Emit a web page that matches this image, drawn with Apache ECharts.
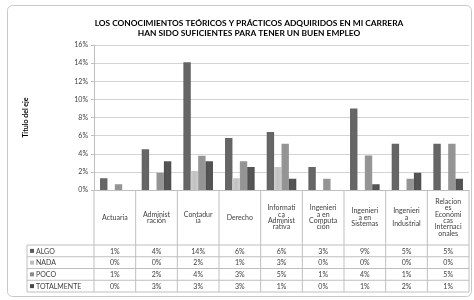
<!DOCTYPE html>
<html>
<head>
<meta charset="utf-8">
<script src="https://cdn.jsdelivr.net/npm/echarts@6/dist/echarts.min.js"></script>
<style>
  html, body { margin: 0; padding: 0; background: #fff; }
  #Chart { width: 474px; height: 300px; }
</style>
</head>
<body>
<div id="Chart"></div>
<script>
  // categorías tal como aparecen (con cortes de línea) en la tabla
  var categorias = ['Actuaria', 'Administ\nración', 'Contadur\nia', 'Derecho',
    'Informati\nca\nAdminist\nrativa', 'Ingenieri\na en\nComputa\nción',
    'Ingenieri\na en\nSistemas', 'Ingenieri\na\nIndustrial',
    'Relacion\nes\nEconómi\ncas\nInternaci\nonales']
  var series = ['ALGO', 'NADA', 'POCO', 'TOTALMENTE']
  var algo = [1.29, 4.49, 14.1, 5.74, 6.4, 2.54, 8.98, 5.11, 5.11]
  var nada = [0, 0, 2.1, 1.29, 2.54, 0, 0, 0, 0]
  var poco = [0.63, 1.91, 3.79, 3.16, 5.11, 1.25, 3.82, 1.25, 5.11]
  var totalmente = [0, 3.16, 3.16, 2.54, 1.25, 0, 0.63, 1.91, 1.25]
  var yTicks = [0, 2, 4, 6, 8, 10, 12, 14, 16]

  var valores = [algo, nada, poco, totalmente]
  var colores = ['#5a5a5a', '#bcbcbc', '#8a8a8a', '#484848']
  var font = 'Lato, "Liberation Sans", sans-serif'
  var texto = '#404040'

  function grad(c) {
    return new echarts.graphic.LinearGradient(0, 0, 1, 0, [
      { offset: 0, color: echarts.color.lift(c, -0.1) },
      { offset: 0.5, color: echarts.color.lift(c, 0.08) },
      { offset: 1, color: echarts.color.lift(c, -0.1) }
    ])
  }

  var Chart = echarts.init(document.getElementById('Chart'))
  var gridL = 94, gridT = 45, gridR = 469, gridB = 190

  Chart.setOption({
    animation: false,
    textStyle: { fontFamily: font },
    title: {
      text: 'LOS CONOCIMIENTOS TEÓRICOS Y PRÁCTICOS ADQUIRIDOS EN MI CARRERA\nHAN SIDO SUFICIENTES PARA TENER UN BUEN EMPLEO',
      left: 244,
      top: 13,
      textAlign: 'center',
      textStyle: { fontSize: 8.4, fontWeight: 'bold', color: '#000', lineHeight: 10, fontFamily: font }
    },
    grid: {
      left: gridL, top: gridT, width: gridR - gridL, height: gridB - gridT,
      outerBoundsMode: 'none'
    },
    xAxis: {
      type: 'category',
      data: categorias,
      axisLabel: { show: false },
      axisTick: { show: false },
      axisLine: { lineStyle: { color: '#bfbfbf' } }
    },
    yAxis: {
      type: 'value',
      min: yTicks[0],
      max: yTicks[yTicks.length - 1],
      interval: 2,
      name: 'Título del eje',
      nameLocation: 'middle',
      nameRotate: 90,
      nameGap: 65,
      nameTextStyle: { fontSize: 7, fontWeight: 'bold', color: '#000', fontFamily: font },
      axisLabel: { formatter: '{value}%', fontSize: 7, color: texto, margin: 6 },
      axisLine: { show: true, lineStyle: { color: '#bfbfbf' } },
      axisTick: { show: true, length: 3, lineStyle: { color: '#bfbfbf' } },
      splitLine: { lineStyle: { color: '#d4d4d4', width: 1 } }
    },
    series: series.map(function (n, i) {
      return {
        name: n,
        type: 'bar',
        data: valores[i],
        barGap: '0%',
        barCategoryGap: '29%',
        itemStyle: { color: grad(colores[i]) }
      }
    })
  })

  // tabla de datos debajo del gráfico
  var filas = [245, 256.75, 268.5, 280.25, 292]
  var tablaIzq = 27
  var paso = (gridR - gridL) / categorias.length
  var g = []
  var lc = '#bfbfbf'

  // horizontales
  filas.forEach(function (y) {
    g.push({ type: 'line', shape: { x1: tablaIzq, y1: y, x2: gridR, y2: y }, style: { stroke: lc, lineWidth: 1 } })
  })
  g.push({ type: 'line', shape: { x1: tablaIzq, y1: filas[0], x2: tablaIzq, y2: filas[4] }, style: { stroke: lc } })
  // verticales
  for (var k = 0; k <= categorias.length; k++) {
    var x = gridL + k * paso
    g.push({ type: 'line', shape: { x1: x, y1: gridB, x2: x, y2: filas[4] }, style: { stroke: lc } })
  }
  // etiquetas de categoría y valores
  categorias.forEach(function (c, i) {
    var cx = Chart.convertToPixel({ xAxisIndex: 0 }, i)
    g.push({
      type: 'text', x: cx, y: (gridB + filas[0]) / 2,
      style: { text: c, fontSize: 7, lineHeight: 6.3, fill: texto, align: 'center', verticalAlign: 'middle', fontFamily: font }
    })
    valores.forEach(function (arr, s) {
      g.push({
        type: 'text', x: cx, y: (filas[s] + filas[s + 1]) / 2 + 0.5,
        style: { text: Math.round(arr[i]) + '%', fontSize: 7, fill: texto, align: 'center', verticalAlign: 'middle', fontFamily: font }
      })
    })
  })
  // leyenda en la tabla
  series.forEach(function (n, s) {
    var cy = (filas[s] + filas[s + 1]) / 2
    g.push({ type: 'rect', shape: { x: tablaIzq + 3, y: cy - 2, width: 4, height: 4 }, style: { fill: colores[s] } })
    g.push({
      type: 'text', x: tablaIzq + 9, y: cy + 0.5,
      style: { text: n, fontSize: 7, fill: texto, align: 'left', verticalAlign: 'middle', fontFamily: font }
    })
  })
  // borde exterior
  g.push({ type: 'rect', shape: { x: 7.5, y: 5.5, width: 464, height: 291, r: 5 }, style: { fill: null, stroke: '#c8c8c8', lineWidth: 1 } })

  Chart.setOption({ graphic: g })
</script>
</body>
</html>
